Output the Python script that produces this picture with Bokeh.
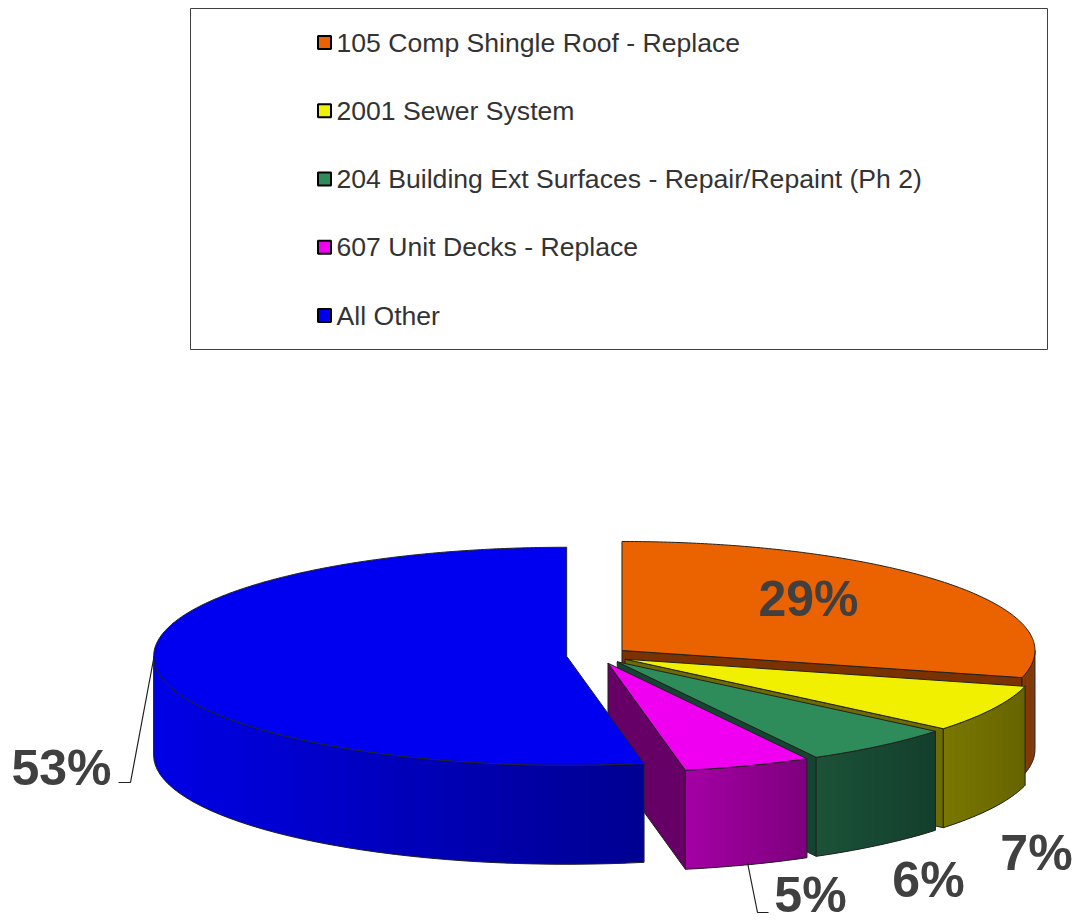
import numpy as np
from bokeh.plotting import figure
from bokeh.models import Range1d, ColumnDataSource
from bokeh.core.properties import value
from bokeh.embed import file_html
from bokeh.resources import INLINE

# ---------------- data ----------------
categories = [
    "105 Comp Shingle Roof - Replace",
    "2001 Sewer System",
    "204 Building Ext Surfaces - Repair/Repaint (Ph 2)",
    "607 Unit Decks - Replace",
    "All Other",
]
shares = [29, 7, 6, 5, 53]
pct_labels = [f"{s}%" for s in shares]

# ---------------- styles ----------------
top_colors = ["#EB6200", "#F0F000", "#2E8B5A", "#F000F0", "#0000F0"]
side_left = [(138, 58, 0), (122, 120, 0), (28, 82, 56), (165, 0, 165), (0, 0, 230)]
side_right = [(118, 46, 0), (102, 100, 0), (19, 63, 44), (125, 0, 125), (0, 0, 145)]
radial_colors = ["#7A3200", "#6E6C00", "#154532", "#660066", "#0000A0"]
edge = "#222222"
label_color = "#404040"

W, H = 1077, 923
CX, CY = 597, 655
RX, RY = 413, 109
DEPTH = 99
EXPLODE = 0.075
label_pos = [(808, 598), (1036, 852), (928, 879), (810, 894), (61, 767)]

p = figure(width=W, height=H, x_range=Range1d(0, W), y_range=Range1d(H, 0),
           output_backend="svg", toolbar_location=None, min_border=0)
p.axis.visible = False
p.grid.visible = False
p.outline_line_color = None
p.background_fill_color = "white"
p.border_fill_color = "white"

total = float(sum(shares))
bounds = np.concatenate([[0.0], np.cumsum(shares)]) / total * 2 * np.pi


def rim(vx, vy, th):
    return vx + RX * np.sin(th), vy - RY * np.cos(th)


def hexc(c):
    return "#%02x%02x%02x" % tuple(int(round(v)) for v in c)


def draw_poly(xs, ys, fill, line=edge, lw=1.0):
    p.patch(list(xs), list(ys), fill_color=fill, line_color=line, line_width=lw)


for i, s in enumerate(shares):
    a0, a1 = bounds[i], bounds[i + 1]
    m = 0.5 * (a0 + a1)
    vx = CX + EXPLODE * RX * np.sin(m)
    vy = CY - EXPLODE * RY * np.cos(m)

    # radial faces
    for a, vis in ((a0, np.sin(a0) < -1e-6), (a1, np.sin(a1) > 1e-6)):
        if vis:
            rx_, ry_ = rim(vx, vy, a)
            draw_poly([vx, rx_, rx_, vx], [vy, ry_, ry_ + DEPTH, vy + DEPTH], radial_colors[i])

    # outer side (front half only), shaded with a horizontal gradient
    s0, s1 = max(a0, np.pi / 2), min(a1, 1.5 * np.pi)
    if s1 > s0:
        n = 40
        th = np.linspace(s0, s1, n + 1)
        xr, yr = rim(vx, vy, th)
        xmin, xmax = xr.min(), xr.max()
        xs_list, ys_list, cols = [], [], []
        for j in range(n):
            k2 = min(j + 2, n)
            xm = 0.5 * (xr[j] + xr[j + 1])
            t = (xm - xmin) / (xmax - xmin) if xmax > xmin else 0
            c = [side_left[i][k] + (side_right[i][k] - side_left[i][k]) * t for k in range(3)]
            xs_list.append([xr[j], xr[k2], xr[k2], xr[j]])
            ys_list.append([yr[j], yr[k2], yr[k2] + DEPTH, yr[j] + DEPTH])
            cols.append(hexc(c))
        src = ColumnDataSource(dict(xs=xs_list, ys=ys_list, c=cols))
        p.patches("xs", "ys", source=src, fill_color="c", line_color=None)
        ox = list(xr) + list(xr[::-1])
        oy = list(yr) + list((yr + DEPTH)[::-1])
        p.patch(ox, oy, fill_color=None, fill_alpha=0, line_color=edge, line_width=1)

    # top face
    th = np.linspace(a0, a1, max(int((a1 - a0) / 0.01), 4))
    xr, yr = rim(vx, vy, th)
    draw_poly([vx] + list(xr), [vy] + list(yr), top_colors[i])

# percentage labels
lx = [q[0] for q in label_pos]
ly = [q[1] for q in label_pos]
p.text(lx, ly, text=pct_labels, text_align="center", text_baseline="middle",
       text_font=value("Liberation Sans"), text_font_style="bold",
       text_font_size="50px", text_color=label_color)

# leader lines
p.line([118, 130, 153], [782, 782, 659], line_color="#202020", line_width=1.2)
p.line([747, 757, 768], [862, 912, 912], line_color="#202020", line_width=1.2)

# legend box (manual)
p.quad(left=[190], right=[1047], top=[8], bottom=[349], fill_color="white",
       line_color="#404040", line_width=1)
row_y = [42 + 68.25 * k for k in range(len(categories))]
p.rect([324] * len(categories), row_y, width=13, height=13, fill_color=top_colors,
       line_color="black", line_width=2)
p.text([336] * len(categories), row_y, text=categories, text_align="left",
       text_baseline="middle", text_font=value("Liberation Sans"),
       text_font_size="26.6px", text_color="#333333")

open("out.html", "w").write(file_html(p, INLINE))
